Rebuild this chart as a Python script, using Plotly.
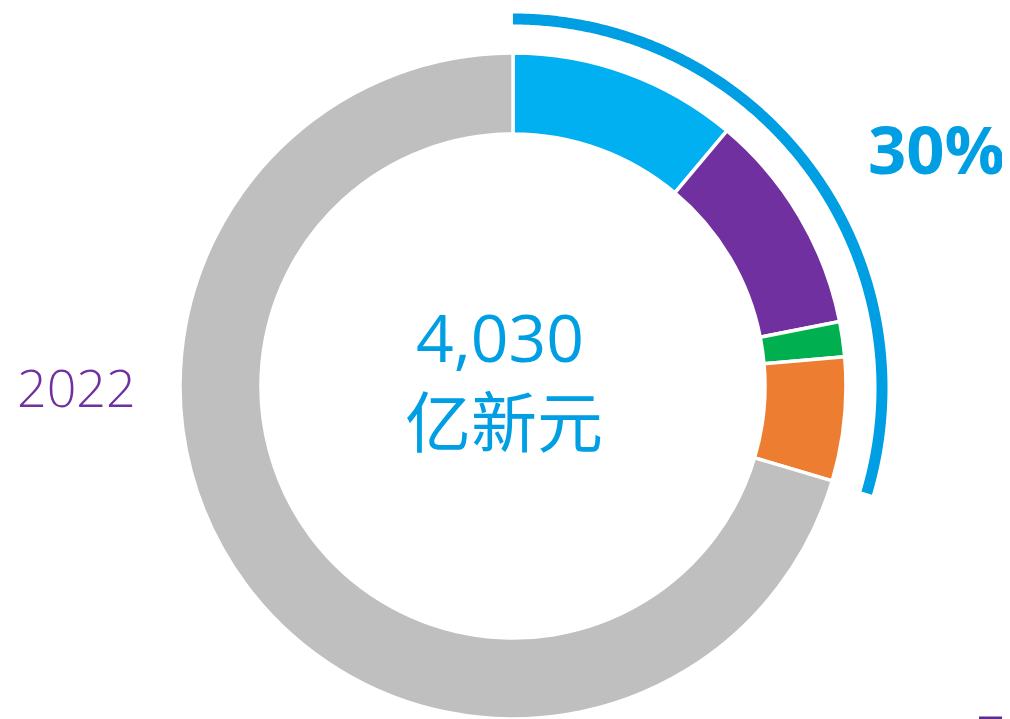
import plotly.graph_objects as go
import numpy as np

# ----------------------------------------
# Datos (participación en %, 2022)
# ----------------------------------------
segmentos = ["A", "B", "C", "D", "Otros"]
valores = [11.1, 10.8, 1.7, 6.0, 70.4]
colores = ["#00B0F0", "#7030A0", "#00B050", "#ED7D31", "#BFBFBF"]
total_texto = "4,030"
unidad_texto = "亿新元"
anio = "2022"

# el navegador deja 8 px de margen en el body
W, H = 1002, 711
cx, cy = 505, 380      # centro del donut en pixeles (desde arriba)
r_out = 335

# porcentaje destacado = suma de los segmentos de color
destacado = sum(valores[:4]) / sum(valores)
pct_texto = f"{round(destacado * 100):.0f}%"

fig = go.Figure()

# ----------------------------------------
# Arco exterior (ejes cartesianos, 1 unidad = 1 px)
# ----------------------------------------
theta = np.linspace(0, destacado * 2 * np.pi, 300)
r_arco = 369
fig.add_trace(go.Scatter(
    x=r_arco * np.sin(theta), y=r_arco * np.cos(theta),
    mode="lines", line=dict(color="#009FE3", width=11, simplify=False),
    hoverinfo="skip", showlegend=False
))

# ----------------------------------------
# Donut
# ----------------------------------------
fig.add_trace(go.Pie(
    labels=segmentos, values=valores,
    marker=dict(colors=colores, line=dict(color="white", width=3.5)),
    hole=252 / 333, sort=False, direction="clockwise", rotation=0,
    textinfo="none", hoverinfo="label+percent", showlegend=False,
    domain=dict(x=[(cx - r_out) / W, (cx + r_out) / W],
                y=[0, (H - cy + r_out) / H])
))

fig.update_xaxes(range=[-cx, W - cx], visible=False, fixedrange=True)
fig.update_yaxes(range=[-(H - cy), cy], visible=False, fixedrange=True)

azul = "#009FE3"
fuente = "Open Sans, Noto Sans CJK SC, sans-serif"
fig.add_annotation(x=-13, y=52, text=total_texto, showarrow=False,
                   font=dict(family=fuente, size=66, color=azul))
fig.add_annotation(x=-9, y=-30, text=unidad_texto, showarrow=False,
                   font=dict(family="Noto Sans CJK SC", size=66, color=azul))
fig.add_annotation(x=423, y=240, text=f"<b>{pct_texto}</b>", showarrow=False,
                   font=dict(family=fuente, size=67, color=azul))
fig.add_annotation(x=-437, y=2, text=anio, showarrow=False,
                   font=dict(family=fuente, size=52, color="#7030A0", weight=300))

# pequeña marca morada abajo a la derecha
fig.add_shape(type="line", xref="paper", yref="paper",
              x0=971 / W, x1=998 / W, y0=1 / H, y1=1 / H,
              line=dict(color="#5B2C8F", width=3))

fig.update_layout(
    width=W, height=H,
    margin=dict(l=0, r=0, t=0, b=0),
    paper_bgcolor="white", plot_bgcolor="white",
)

fig.write_html("out.html")
